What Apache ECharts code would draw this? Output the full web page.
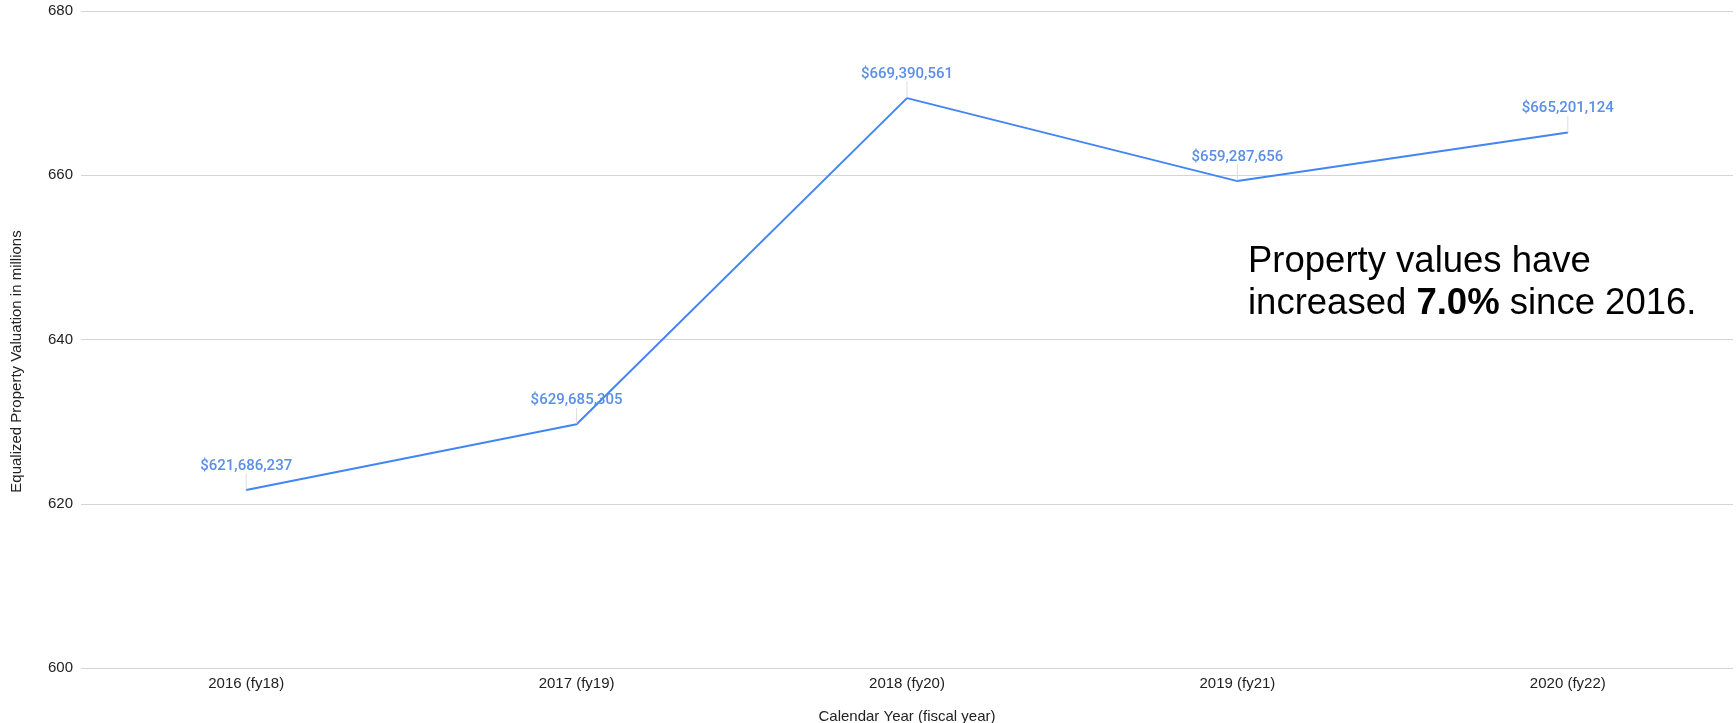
<!DOCTYPE html>
<html>
<head>
<meta charset="utf-8">
<script src="https://cdn.jsdelivr.net/npm/echarts@6/dist/echarts.min.js"></script>
<style>html,body{margin:0;padding:0;background:#fff}#c{width:1736px;height:723px}</style>
</head>
<body>
<div id="c"></div>
<script>
const categories = ['2016 (fy18)', '2017 (fy19)', '2018 (fy20)', '2019 (fy21)', '2020 (fy22)'];
const valuations = [621686237, 629685305, 669390561, 659287656, 665201124];
const yTicks = [600, 620, 640, 660, 680];

const chart = echarts.init(document.getElementById('c'));
const font = 'Liberation Sans, Arial, sans-serif';
chart.setOption({
  animation: false,
  grid: { left: 81, right: 3, top: 11, bottom: 55, containLabel: false, outerBoundsMode: 'none' },
  xAxis: {
    type: 'category',
    data: categories,
    boundaryGap: true,
    name: 'Calendar Year (fiscal year)',
    nameLocation: 'middle',
    nameGap: 41,
    nameTextStyle: { fontFamily: font, fontSize: 15, color: '#222' },
    axisLine: { show: false },
    axisTick: { show: false },
    axisLabel: { fontFamily: font, fontSize: 15, color: '#222', margin: 8 }
  },
  yAxis: {
    type: 'value',
    min: yTicks[0],
    max: yTicks[yTicks.length - 1],
    interval: 20,
    name: 'Equalized Property Valuation in millions',
    nameLocation: 'middle',
    nameGap: 57,
    nameTextStyle: { fontFamily: font, fontSize: 15, color: '#222', padding: [0, 44, 0, 0] },
    axisLine: { show: false },
    axisTick: { show: false },
    axisLabel: { fontFamily: font, fontSize: 15, color: '#222', margin: 8 },
    splitLine: { lineStyle: { color: '#d4d4d4', width: 1 } }
  },
  series: [{
    type: 'line',
    data: valuations.map(v => v / 1e6),
    symbol: 'circle',
    symbolSize: 1,
    showSymbol: true,
    itemStyle: { color: '#4285f4' },
    lineStyle: { color: '#4285f4', width: 2 },
    label: {
      show: true,
      position: 'top',
      distance: 2,
      fontFamily: 'Roboto, sans-serif',
      fontSize: 15,
      fontWeight: 500,
      color: '#5b8fe6',
      formatter: p => '$' + valuations[p.dataIndex].toLocaleString('en-US')
    },
    labelLayout: { dy: -14 },
    labelLine: { show: true, lineStyle: { color: '#dddddd', width: 1 } }
  }],
  graphic: [{
    type: 'text',
    left: 1248,
    top: 243,
    style: {
      text: '{a|Property values have}\n{a|increased }{b|7.0%}{a| since 2016.}',
      rich: {
        a: { fontFamily: font, fontSize: 36.5, color: '#111', lineHeight: 42 },
        b: { fontFamily: font, fontSize: 36.5, fontWeight: 'bold', color: '#111', lineHeight: 42 }
      }
    }
  }]
});
</script>
</body>
</html>
